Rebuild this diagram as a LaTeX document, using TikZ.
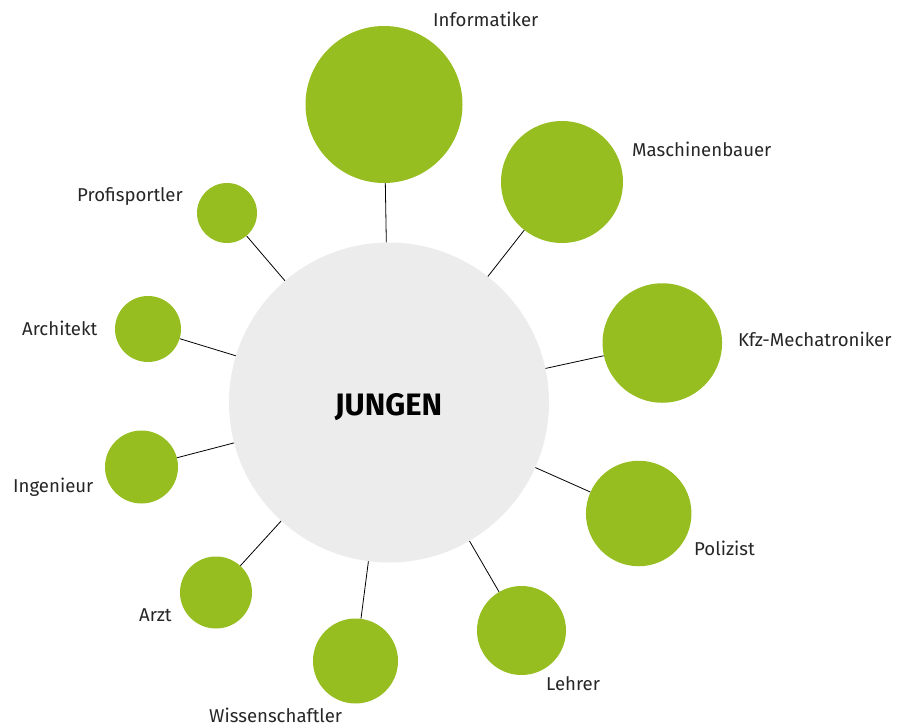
\documentclass[tikz,border=0pt]{standalone}
\usepackage{fontspec}
\setmainfont{Fira Sans}
\usepackage{tikz}
\definecolor{berufgruen}{RGB}{151,190,33}
\definecolor{mittegrau}{RGB}{236,236,236}

\begin{document}
\begin{tikzpicture}[
  x=1pt, y=-1pt,
  font=\fontsize{18.6}{21}\selectfont,
  mitte/.style={circle, fill=mittegrau, inner sep=0pt, minimum size=320pt},
  beruf/.style={circle, fill=berufgruen, inner sep=0pt},
  lb/.style={anchor=base west, inner sep=0pt, text=black!85},
  ed/.style={line width=0.8pt, black},
]
\useasboundingbox (0,0) rectangle (898,726);
\node[mitte] (jg) at (389,402.5) {};
\node (jgtxt) at (388.5,407) {\fontsize{31}{35}\selectfont\bfseries JUNGEN};
% Berufe im Uhrzeigersinn
\node[beruf, minimum size=157pt] (inf) at (384,104.5) {};
\node[beruf, minimum size=122pt] (msb) at (562,182) {};
\node[beruf, minimum size=119.5pt] (kfz) at (662.3,343) {};
\node[beruf, minimum size=105.5pt] (pol) at (638.7,513.5) {};
\node[beruf, minimum size=89pt] (leh) at (521.5,630.5) {};
\node[beruf, minimum size=85pt] (wis) at (355.5,661) {};
\node[beruf, minimum size=72pt] (arz) at (216,592.5) {};
\node[beruf, minimum size=73pt] (ing) at (141.5,467) {};
\node[beruf, minimum size=66pt] (arc) at (148,329) {};
\node[beruf, minimum size=60pt] (pro) at (227,213) {};
\foreach \b in {inf,msb,kfz,pol,leh,wis,arz,ing,arc,pro} {
  \draw[ed] (jg) -- (\b);
}
% Beschriftungen
\node[lb] (linf) at (433,26.7) {Informatiker};
\node[lb] (lmsb) at (632,156) {Maschinenbauer};
\node[lb] (lkfz) at (738,346) {Kfz-Mechatroniker};
\node[lb] (lpol) at (694,555.5) {Polizist};
\node[lb] (lleh) at (546,690.5) {Lehrer};
\node[lb] (lwis) at (209,722) {Wissenschaftler};
\node[lb] (larz) at (139,621.5) {Arzt};
\node[lb] (ling) at (13,492) {Ingenieur};
\node[lb] (larc) at (22,335) {Architekt};
\node[lb] (lpro) at (77,201) {Profisportler};
\end{tikzpicture}
\end{document}
